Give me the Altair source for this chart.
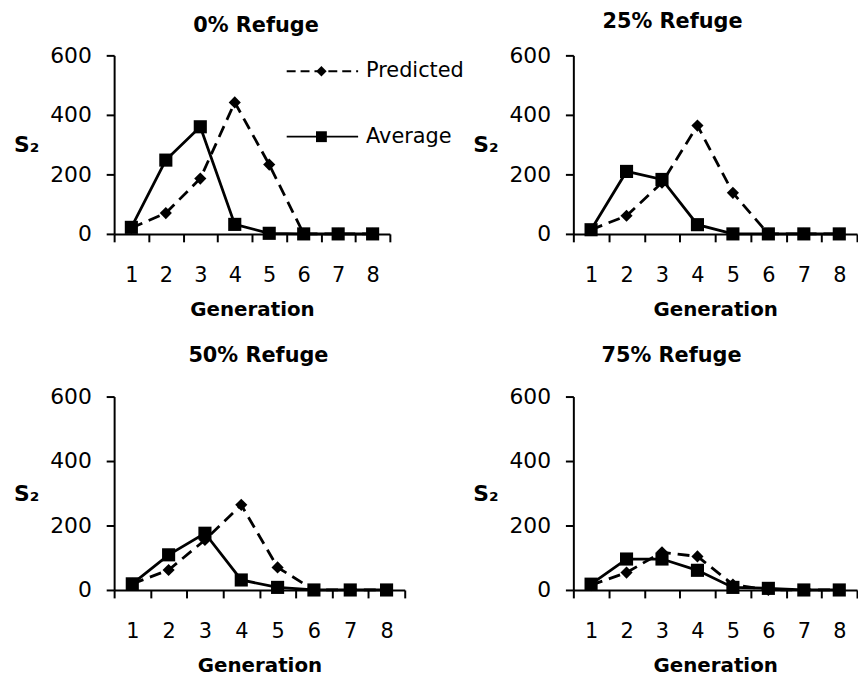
import altair as alt
import pandas as pd

generations = [1, 2, 3, 4, 5, 6, 7, 8]
panel_titles = ["0% Refuge", "25% Refuge", "50% Refuge", "75% Refuge"]
series_names = ["Predicted", "Average"]

predicted_0 = [20, 70, 186, 442, 233, 0, 0, 0]
average_0 = [22, 248, 360, 32, 2, 0, 0, 0]
predicted_25 = [14, 61, 172, 364, 138, 0, 0, 0]
average_25 = [14, 210, 183, 31, 0, 0, 0, 0]
predicted_50 = [19, 62, 155, 264, 70, 0, 0, 0]
average_50 = [19, 109, 176, 31, 8, 0, 0, 0]
predicted_75 = [15, 54, 117, 104, 17, 0, 0, 0]
average_75 = [18, 96, 96, 61, 8, 5, 0, 0]

y_ticks = [0, 200, 400, 600]
FONT = "DejaVu Sans"


def panel(title, pred, avg, width, height, title_dx, title_offset, legend=False):
    df = pd.DataFrame({
        "Generation": generations * 2,
        "S2": pred + avg,
        "Series": [series_names[0]] * len(generations) + [series_names[1]] * len(generations),
    })
    base = alt.Chart(df).encode(
        x=alt.X(
            "Generation:O",
            bandPosition=0.5,
            scale=alt.Scale(type="band", paddingInner=0, paddingOuter=0),
            axis=alt.Axis(
                title="Generation", labelAngle=0, tickBand="extent", grid=False,
                domainColor="black", domainWidth=2, tickColor="black", tickWidth=2, tickSize=8,
                labelFont=FONT, labelFontSize=21, labelColor="black", labelPadding=23,
                titleFont=FONT, titleFontSize=20, titleFontWeight="bold", titleColor="black",
                titlePadding=14,
            ),
        ),
        y=alt.Y(
            "S2:Q",
            scale=alt.Scale(domain=[0, 600], nice=False),
            axis=alt.Axis(
                title="S₂", values=y_ticks, grid=False,
                domainColor="black", domainWidth=2, tickColor="black", tickWidth=2, tickSize=8,
                labelFont=FONT, labelFontSize=22, labelColor="black", labelPadding=15,
                titleFont=FONT, titleFontSize=22, titleFontWeight="bold", titleColor="black",
                titleAngle=0, titleAlign="right", titleBaseline="middle", titlePadding=11,
            ),
        ),
    )
    pred_df = base.transform_filter(alt.datum.Series == series_names[0])
    avg_df = base.transform_filter(alt.datum.Series == series_names[1])
    layers = [
        pred_df.mark_line(color="black", strokeWidth=2.8, strokeDash=[12, 7]),
        pred_df.mark_point(shape="diamond", filled=True, size=150, color="black", opacity=1),
        avg_df.mark_line(color="black", strokeWidth=2.8),
        avg_df.mark_point(shape="square", filled=True, size=175, color="black", opacity=1),
    ]
    if legend:
        leg_pred = pd.DataFrame({"label": [series_names[0]]})
        leg_avg = pd.DataFrame({"label": [series_names[1]]})
        lx0, lx1, lxm, ltx = 174, 246, 209, 254
        ly1, ly2 = 16, 82
        layers += [
            alt.Chart(leg_pred).mark_rule(color="black", strokeWidth=1.8, strokeDash=[9, 5]).encode(
                x=alt.value(lx0), x2=alt.value(lx1), y=alt.value(ly1)),
            alt.Chart(leg_pred).mark_point(shape="diamond", filled=True, size=110, color="black", opacity=1).encode(
                x=alt.value(lxm), y=alt.value(ly1)),
            alt.Chart(leg_pred).mark_text(align="left", baseline="middle", font=FONT, fontSize=21, color="black").encode(
                x=alt.value(ltx), y=alt.value(ly1), text="label:N"),
            alt.Chart(leg_avg).mark_rule(color="black", strokeWidth=1.8).encode(
                x=alt.value(lx0), x2=alt.value(lx1), y=alt.value(ly2)),
            alt.Chart(leg_avg).mark_point(shape="square", filled=True, size=120, color="black", opacity=1).encode(
                x=alt.value(lxm), y=alt.value(ly2)),
            alt.Chart(leg_avg).mark_text(align="left", baseline="middle", font=FONT, fontSize=21, color="black").encode(
                x=alt.value(ltx), y=alt.value(ly2), text="label:N"),
        ]
    return alt.layer(*layers).properties(
        width=width, height=height,
        title=alt.Title(title, font=FONT, fontSize=21, fontWeight="bold", color="black",
                        anchor="middle", frame="group", dx=title_dx, offset=title_offset),
    )


p1 = panel(panel_titles[0], predicted_0, average_0, 278, 180, 4, 9, legend=True)
p2 = panel(panel_titles[1], predicted_25, average_25, 286, 180, -43, 13)
p3 = panel(panel_titles[2], predicted_50, average_50, 293, 195, -1, 20)
p4 = panel(panel_titles[3], predicted_75, average_75, 286, 195, -44, 20)

chart = alt.concat(
    p1, p2, p3, p4, columns=2, spacing={"row": 164, "column": 170},
    bounds="flush", align="each",
).properties(
    padding={"left": 5, "top": 0, "right": 0, "bottom": 0},
    background="white",
).configure_view(stroke=None)

chart.save("out.html", embed_options={"renderer": "svg", "actions": False})
